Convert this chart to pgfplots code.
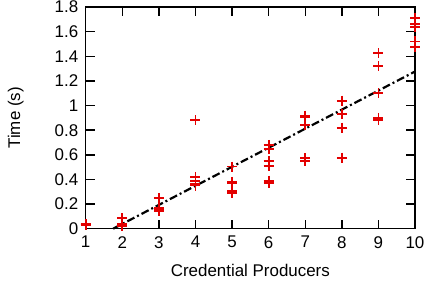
\documentclass[border=0pt]{standalone}
\usepackage{fontspec}
\setmainfont{Liberation Sans}
\usepackage{pgfplots}
\pgfplotsset{compat=1.18}
\definecolor{gpred}{rgb}{0.89,0,0}
\begin{document}
\begin{tikzpicture}[font=\fontsize{17}{20.4}\selectfont]
\begin{axis}[
  name=ax,
  scale only axis,
  width=329.3bp, height=221.7bp,
  xmin=1, xmax=10, ymin=0, ymax=1.8,
  xtick={1,2,...,10},
  ytick={0,0.2,0.4,0.6,0.8,1,1.2,1.4,1.6,1.8},
  /pgf/number format/assume math mode=true,
  /pgf/number format/fixed,
  tick align=inside,
  major tick length=9bp,
  axis line style={black, line width=1.5bp},
  every tick/.style={black, line width=1.4bp},
  yticklabel style={xshift=-4bp},
  xticklabel style={yshift=-4bp},
  xlabel={Credential Producers},
  ylabel={Time (s)},
  every axis x label/.style={at={([yshift=-42bp]axis description cs:0.5,0)}, anchor=center},
  every axis y label/.style={at={([xshift=-70bp]axis description cs:0,0.5)}, anchor=center, rotate=90},
  clip=false,
]
\addplot[only marks, mark=+, mark size=5bp, color=gpred, mark options={line width=1.8bp}] coordinates {
 (1,0.04) (1,0.03) (1,0.03)
 (2,0.085) (2,0.04) (2,0.02)
 (3,0.25) (3,0.165) (3,0.15) (3,0.14)
 (4,0.88) (4,0.42) (4,0.39) (4,0.36) (4,0.35)
 (5,0.505) (5,0.38) (5,0.37) (5,0.305) (5,0.29)
 (6,0.68) (6,0.65) (6,0.55) (6,0.51) (6,0.39) (6,0.37)
 (7,0.918) (7,0.905) (7,0.845) (7,0.573) (7,0.55)
 (8,1.04) (8,0.93) (8,0.82) (8,0.578) (8,0.57)
 (9,1.425) (9,1.32) (9,1.10) (9,0.90) (9,0.885)
 (10,1.71) (10,1.66) (10,1.64) (10,1.52) (10,1.475)
};
\addplot[black, line width=2.2bp, dash pattern=on 8bp off 3bp on 2bp off 3bp] coordinates {(1.75,0) (10,1.276)};
\end{axis}
\pgfresetboundingbox
\path ([shift={(-85.7bp,-55.3bp)}]ax.south west) rectangle ([shift={(12bp,7bp)}]ax.north east);
\end{tikzpicture}
\end{document}
